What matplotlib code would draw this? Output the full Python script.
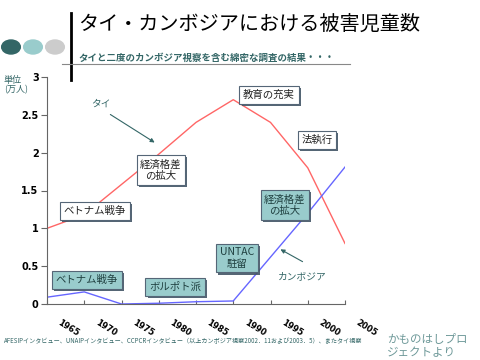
import matplotlib
matplotlib.use("Agg")
import matplotlib.pyplot as plt
import matplotlib.patheffects as pe
from matplotlib.patches import Circle
from matplotlib.lines import Line2D
from matplotlib.transforms import ScaledTranslation

plt.rcParams["font.family"] = ["Noto Sans CJK JP", "DejaVu Sans"]

years = ["1965", "1970", "1975", "1980", "1985", "1990", "1995", "2000", "2005"]
thai = [1.0, 1.18, 1.58, 1.98, 2.4, 2.7, 2.4, 1.8, 0.8]
cambodia = [0.09, 0.16, 0.0, 0.01, 0.03, 0.04, 0.62, 1.2, 1.81]
yticks = [0, 0.5, 1, 1.5, 2, 2.5, 3]

TEAL = "#336666"
W, H = 480, 360


def fx(px):
    return px / W


def fy(py):
    return 1 - py / H


fig = plt.figure(figsize=(4.8, 3.6), dpi=100)

# header decoration
fig.add_artist(Line2D([fx(71), fx(71)], [fy(13), fy(80)], color="black", lw=2))
fig.add_artist(Line2D([fx(62), fx(350)], [fy(64), fy(64)], color="#888888", lw=0.8))
for cx, col in [(11, "#336666"), (33, "#99CCCC"), (55, "#CCCCCC")]:
    fig.add_artist(Circle((fx(cx), fy(47)), 7 / H, color=col,
                          transform=fig.transFigure))
fig.text(fx(78), fy(24), "タイ・カンボジアにおける被害児童数", fontsize=14.5,
         va="center", ha="left")
fig.text(fx(78), fy(58), "タイと二度のカンボジア視察を含む綿密な調査の結果・・・",
         fontsize=6.8, fontweight="bold", color=TEAL, va="center", ha="left")

ax = fig.add_axes([fx(47), fy(304), fx(345) - fx(47), (304 - 77) / H])
ax.plot(range(len(years)), thai, color="#FF6666", lw=1)
ax.plot(range(len(years)), cambodia, color="#6666FF", lw=1)
ax.set_xlim(0, len(years) - 1)
ax.set_ylim(0, 3)
ax.set_yticks(yticks)
ax.set_yticklabels([f"{v:g}" for v in yticks], fontsize=7, fontweight="bold",
                   family="DejaVu Sans")
ax.set_xticks(range(len(years)))
ax.set_xticklabels([])
# rotated year labels, shifted right/down like the original
off = ScaledTranslation(14 / 100, -14 / 100, fig.dpi_scale_trans)
for i, yr in enumerate(years):
    ax.text(i, 0, yr, transform=ax.get_xaxis_transform() + off,
            rotation=-32, rotation_mode="anchor", ha="left", va="top",
            fontsize=6, fontweight="bold", family="DejaVu Sans")
ax.tick_params(axis="x", direction="in", length=3, color="#666666")
ax.tick_params(axis="y", direction="out", length=4, color="#666666", pad=2)
for s in ["top", "right"]:
    ax.spines[s].set_visible(False)
for s in ["left", "bottom"]:
    ax.spines[s].set_color("#666666")
ax.patch.set_alpha(0)

fig.text(fx(4), fy(85), "単位\n(万人)", fontsize=6.5, color=TEAL,
         va="center", ha="left", linespacing=1.0)


def box(x, y, s, fc):
    t = fig.text(fx(x), fy(y), s, fontsize=7.5, color="#222222" if fc == "white" else "#1F3F3F",
                 ha="center", va="center", linespacing=1.2,
                 bbox=dict(boxstyle="square,pad=0.35", fc=fc, ec="#556677", lw=0.8))
    t.get_bbox_patch().set_path_effects(
        [pe.SimplePatchShadow(offset=(1.5, -1.5), shadow_rgbFace="#445566", alpha=0.9),
         pe.Normal()])


box(95, 211, "ベトナム戦争", "white")
box(161, 170, "経済格差\nの拡大", "white")
box(269, 95, "教育の充実", "white")
box(317, 140, "法執行", "white")
box(87, 280, "ベトナム戦争", "#99CCCC")
box(175, 287, "ボルポト派", "#99CCCC")
box(237, 258, "UNTAC\n駐留", "#99CCCC")
box(285, 205, "経済格差\nの拡大", "#99CCCC")

fig.text(fx(101), fy(104), "タイ", fontsize=7, color=TEAL, ha="center", va="center")
fig.text(fx(302), fy(276), "カンボジア", fontsize=7, color=TEAL, ha="center", va="center")
ax.annotate("", xy=(fx(157), fy(144)), xytext=(fx(108), fy(113)),
            xycoords="figure fraction", textcoords="figure fraction",
            arrowprops=dict(arrowstyle="-|>", color=TEAL, lw=0.8, mutation_scale=6))
ax.annotate("", xy=(fx(278), fy(248)), xytext=(fx(305), fy(263)),
            xycoords="figure fraction", textcoords="figure fraction",
            arrowprops=dict(arrowstyle="-|>", color=TEAL, lw=0.8, mutation_scale=6))

fig.text(fx(4), fy(341),
         "AFESIPインタビュー、UNAIPインタビュー、CCPCRインタビュー（以上カンボジア視察2002．11および2003．5）、またタイ視察",
         fontsize=4.4, color=TEAL, ha="left", va="center")
fig.text(fx(387), fy(346), "かものはしプロ\nジェクトより", fontsize=8.3,
         color="#6E9999", ha="left", va="center", linespacing=1.1)

fig.savefig("out.png", dpi=100)
